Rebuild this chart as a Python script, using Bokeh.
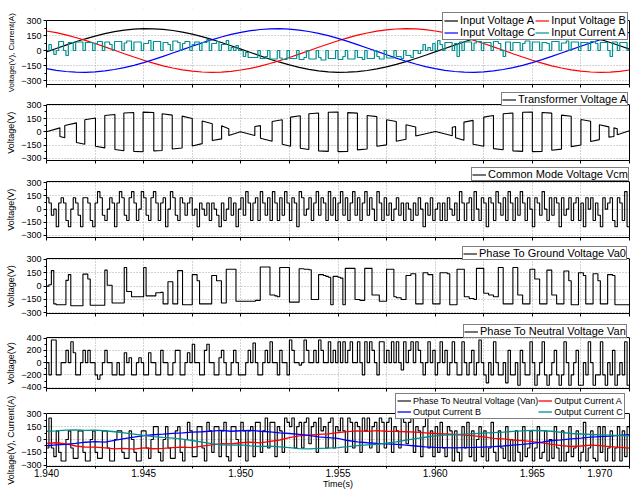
import numpy as np
from bokeh.plotting import figure
from bokeh.layouts import column
from bokeh.models import (Range1d, FixedTicker, Legend, LegendItem, CustomJSTickFormatter,
                          BoxAnnotation, Span, LinearAxis, Title)
from bokeh.embed import file_html
from bokeh.resources import INLINE

FONT = "Liberation Sans"
BLACK, RED, BLUE, TEAL = "#000000", "#ff0000", "#0000ff", "#009090"

T_START, T_END = 1.940, 1.970
SINE_DT_MS = 0.5      # sampling of the smooth curves (ms)
PWM_DT_MS = 0.125     # cell width of the switched waveforms (ms)

x_ticks = [1.94, 1.9425, 1.945, 1.9475, 1.95, 1.9525, 1.955, 1.9575,
           1.96, 1.9625, 1.965, 1.9675, 1.97]

# ---------------- panel 1: input side ----------------
input_voltage_a = [-14, 20, 54, 87, 117, 144, 168, 188, 203, 213, 218, 217, 211, 200, 184, 164, 139, 111, 80, 48, 14,
                   -20, -54, -87, -117, -144, -168, -188, -203, -213, -218, -217, -211, -200, -184, -164, -139, -111, -80, -48, -14,
                   20, 54, 87, 117, 144, 168, 188, 203, 213, 218, 217, 211, 200, 184, 164, 139, 111, 80, 48, 14]
input_voltage_b = [195, 178, 156, 130, 101, 70, 36, 2, -32, -65, -97, -126, -153, -175, -193, -207, -215, -218, -216, -208,
                   -195, -178, -156, -130, -101, -70, -36, -2, 32, 65, 97, 126, 153, 175, 193, 207, 215, 218, 216, 208,
                   195, 178, 156, 130, 101, 70, 36, 2, -32, -65, -97, -126, -153, -175, -193, -207, -215, -218, -216, -208, -195]
input_voltage_c = [-182, -198, -210, -217, -218, -214, -204, -190, -171, -148, -121, -91, -59, -25, 9, 43, 76, 107, 135, 161,
                   182, 198, 210, 217, 218, 214, 204, 190, 171, 148, 121, 91, 59, 25, -9, -43, -76, -107, -135, -161,
                   -182, -198, -210, -217, -218, -214, -204, -190, -171, -148, -121, -91, -59, -25, 9, 43, 76, 107, 135, 161, 182]
input_current_a = [
    0, 60, 0, -40, 0, 90, 90, 0,
    -50, 80, 80, 0, 85, 85, 85, 0,
    80, 80, 80, 0, 70, 90, 90, 0,
    85, 85, 60, 0, 90, 90, 90, 0,
    75, 95, 95, 0, 85, 85, 85, 0,
    70, 70, 100, 0, 90, 90, 90, 0,
    80, 80, 60, 0, 95, 95, 80, 0,
    70, 90, 90, 0, 60, 85, 85, 0,
    80, 80, 110, 0, 70, 70, 90, 0,
    60, 60, 100, 0, 30, 0, 50, 0,
    0, -60, -20, -70, -70, -70, -70, 0,
    -80, -80, -60, 0, -85, -85, -85, 0,
    -75, -90, -90, 0, -80, -80, -80, 0,
    -90, -90, -70, 0, -85, -85, -85, 0,
    -70, -95, -95, 0, -80, -80, -80, 0,
    -90, -90, -60, 0, -85, -85, -85, 0,
    -70, -70, -90, 0, -80, -80, -80, 0,
    -60, -85, -85, 0, -75, -75, -75, 0,
    -60, -60, -80, 0, -50, -50, -70, 0,
    0, -30, 0, 60, 0, 30, 0, 70,
    0, 100, 60, 0, 80, 80, 80, 0,
    70, -60, 85, 0, 85, 85, 85, 0,
    75, 90, 90, 0, 80, 80, 80, 0,
    90, 90, 70, 0, -60, 85, 85, 0,
    80, 80, 80, 0, 70, 95, 95, 0,
    85, 85, 85, 0, 80, 80, 70, 0,
    90, 90, 90, 0, 75, 75, 95, 0,
    85, 85, 85, 0, 80, 80, 80, 0,
    90, 90, 70, 0, 80, 80, 80, 0,
    -60, 85, 85, 0, 80, 80, 80, 0]

# ---------------- panel 2: transformer voltage (breakpoints) ----------------
transformer_ms = [0, 0.69, 0.69, 0.94, 0.94, 1.54, 1.54, 1.97, 1.97, 2.52, 2.52, 3.0, 3.0, 3.52, 3.52, 3.98,
                  3.98, 4.49, 4.49, 4.97, 4.97, 5.52, 5.52, 5.95, 5.95, 6.47, 6.47, 6.98, 6.98, 7.5, 7.5, 8.01,
                  8.01, 8.53, 8.53, 9.01, 9.01, 9.38, 9.38, 9.98, 10.72, 10.72, 11.01, 11.01, 11.61, 11.61, 12.13,
                  12.13, 12.56, 12.56, 13.06, 13.06, 13.5, 13.5, 14.0, 14.0, 14.5, 14.5, 15.0, 15.0, 15.5, 15.5,
                  16.0, 16.0, 16.5, 16.5, 17.0, 17.0, 17.5, 17.5, 18.0, 18.0, 18.5, 18.5, 19.0, 19.0, 20.02, 20.88,
                  20.88, 21.05, 21.05, 21.48, 21.48, 21.95, 21.95, 22.5, 22.5, 23.0, 23.0, 23.5, 23.5, 24.0, 24.0,
                  24.5, 24.5, 25.0, 25.0, 25.5, 25.5, 26.0, 26.0, 26.5, 26.5, 27.0, 27.0, 27.5, 27.5, 28.0, 28.0,
                  28.45, 28.45, 28.94, 28.94, 29.2, 29.2, 29.37, 29.37, 30.0]
transformer_v = [0, 45, -53, -68, 72, 102, -121, -140, 137, 156, -163, -182, 186, 196, -201, -214,
                 214, 220, -222, -226, 224, 220, -216, -212, 205, 190, -194, -184, 178, 152, -160, -134,
                 122, 92, -99, -80, 68, 36, -42, 0, -42, 60, 70, -72, -106, 118, 137,
                 -140, -163, 167, 182, -186, -201, 205, 214, -216, -222, 222, 224, -224, -222, 218,
                 212, -205, -194, 186, 172, -163, -148, 137, 118, -106, -84, 80, 55, -48, 4, -45,
                 52, 60, -66, -95, 110, 130, -140, -163, 167, 186, -190, -203, 205, 214, -216,
                 -222, 222, 224, -224, -222, 220, 212, -208, -196, 190, 176, -168, -150, 140, 120, -110,
                 -88, 80, 56, -60, -52, 45, 36, -34, 12]

# ---------------- panel 3: common mode voltage ----------------
common_mode_vcm = [
    130, 70, -70, 0, -200, 70, 130, 70,
    -130, -200, 0, 130, 70, -70, -200, 130,
    130, 70, -130, -200, 70, 200, 130, -70,
    -130, 0, 130, 70, -200, 70, 200, 130,
    -70, -130, 130, 200, 70, -130, 0, 200,
    130, -70, -130, 130, 200, 70, -130, 70,
    130, -200, 0, 200, 130, -70, -130, 130,
    70, -70, 70, 130, -70, 0, -200, 70,
    0, -70, 70, -130, 70, 0, -70, -200,
    70, -130, 0, 130, -70, 70, -200, 0,
    130, -70, 200, 70, -130, 70, 130, -130,
    200, 70, -70, 130, -130, 200, 70, -130,
    130, -70, 200, 70, -130, 130, 70, -200,
    200, 130, -70, 0, 130, -130, 70, 200,
    -70, 130, 70, -130, 200, -70, 130, -130,
    70, 200, -70, 130, -130, 70, 200, -70,
    130, -130, 70, 200, -70, 130, 0, -130,
    200, 70, -130, 130, -70, 70, -130, 0,
    130, -70, 70, -130, 70, 0, -130, 70,
    -70, 130, 0, -200, 70, -70, 130, -130,
    0, 70, -130, 70, -130, 130, 0, -70,
    70, -130, 200, 70, -130, 70, 130, -130,
    200, 0, -130, 130, 70, -200, 130, 70,
    -130, 200, 70, -70, 130, -130, 200, 70,
    -130, 130, -70, 200, 70, -130, 130, 0,
    -200, 130, 70, -70, 200, 0, -130, 130,
    -70, 130, 70, -200, 130, -70, 0, 130,
    -130, 70, 130, -130, 70, -200, 130, 0,
    130, -130, 70, -70, -200, 130, 0, 70,
    130, -130, -200, 130, 70, -130, 200, -200]

# ---------------- panel 4: phase to ground voltage ----------------
phase_ground_va0 = [
    0, 15, 175, -200, -210, -210, -210, -210,
    65, 130, -220, -220, -220, -220, -220, 135,
    135, 80, -215, -215, -215, -215, -215, -215,
    180, 10, 10, -190, -190, -190, -190, -190,
    210, -60, -60, -120, -120, -120, -120, -120,
    210, -110, -110, -110, -110, -75, -75, -70,
    -200, -200, 50, 50, -200, -200, 175, 175,
    -210, -210, -210, -210, 130, 130, 60, -200,
    -200, -200, -200, -200, 120, 120, 60, 60,
    -190, -190, 190, 190, 190, 190, -170, -170,
    -170, -170, -170, -170, -170, -170, -160, -160,
    215, 215, 215, 215, -100, -100, -110, -120,
    210, 210, 210, 210, -180, -180, -180, -180,
    195, 195, 190, 190, 185, -150, -150, -150,
    130, 130, 120, 110, 100, -210, 110, 110,
    100, 90, -210, 200, 200, 200, 200, -150,
    -150, -160, -160, 200, 200, 200, -100, -100,
    -100, -170, -170, -170, 190, 190, 190, -120,
    -130, -130, -150, -150, 120, 120, 140, 140,
    -200, -200, -200, 150, 150, 130, 130, -200,
    -200, -200, 150, 150, 150, 140, -210, -210,
    -210, 190, 190, 190, -120, -120, -140, -140,
    -150, 200, 200, 200, -80, -80, -100, -100,
    -120, -120, 210, 210, -200, -200, -200, -200,
    210, 210, -100, -100, -200, -200, -200, 190,
    190, 80, 80, -200, -200, -200, 180, 180,
    -100, -100, -200, -200, -200, 170, 170, 60,
    -210, -210, -210, 150, 150, 120, -200, -200,
    -200, 140, 140, 60, -200, -200, -200, 130,
    130, 120, -210, -210, -210, -210, -210, -210]

# ---------------- panel 5: phase to neutral voltage ----------------
phase_neutral_van = [
    0, -200, 370, 370, -200, -200, 0, 0,
    200, 0, 340, 160, -200, -200, 0, 200,
    0, 200, 0, 0, -200, -270, -200, 0,
    200, 0, 0, -200, -200, 0, -200, -200,
    160, 0, 80, -200, -200, 0, 80, 0,
    -200, -200, 160, 0, 0, -200, -200, 200,
    0, 0, -200, -200, 0, 200, 200, -200,
    -200, 0, 160, 0, 300, 0, 0, -200,
    -200, 200, 300, 0, 0, -200, -200, 80,
    200, 0, -200, -200, 0, 200, 0, -200,
    -200, -200, 0, 200, 0, 320, 0, -200,
    -200, 0, 200, 0, 340, 0, 0, -200,
    200, 0, 0, -200, 370, 200, 0, 0,
    -40, 0, 370, 200, 0, 0, 200, 0,
    370, 200, 0, 0, 340, 0, 200, 0,
    340, 0, 340, 0, 200, 340, 0, 0,
    340, 0, -200, 340, 0, 340, 200, 0,
    -200, 340, 340, 0, 200, 0, 340, 0,
    340, 0, -120, 340, 0, 200, 340, 0,
    340, 200, 0, -200, 0, 340, 0, 200,
    -200, 0, 340, 0, 200, -200, 0, 340,
    0, -200, -200, 340, 0, -200, 0, 200,
    -200, 0, 370, 0, -200, -330, 0, -200,
    340, 0, -200, -200, 0, -330, 200, -200,
    -200, 0, -370, 200, 0, -200, -200, 340,
    0, -370, -200, 0, 340, -200, -370, -200,
    0, 200, -200, -370, -200, 340, 0, -370,
    -200, 0, 200, -370, -370, 0, -200, 340,
    0, -370, -200, -200, 340, -200, -370, 0,
    -200, 200, -370, -200, 0, -200, 340, -370]

# ---------------- panel 6: output side ----------------
output_van = [
    -100, 250, -100, -200, 100, -150, -250, -250,
    0, 100, -100, -220, -220, 100, 100, -150,
    -250, -250, 0, 100, -150, -220, -220, 100,
    100, -100, -250, -250, 0, 100, 100, -150,
    -220, -220, 100, 0, -150, -250, -250, 100,
    100, -100, -220, 0, 150, 150, -150, -250,
    0, 150, -100, -220, -220, 100, 150, -150,
    -250, 0, 200, 100, -200, -200, 150, 150,
    -100, -250, 200, 100, -150, 150, 150, -200,
    100, 200, -200, -250, 150, 150, 0, -200,
    200, 100, -250, 100, 150, -200, 200, 200,
    -150, 100, 250, -100, 200, 200, -200, 150,
    100, -150, 250, 200, 150, 250, -100, 150,
    200, -100, 200, 250, -50, 150, 200, -150,
    250, 100, 150, -100, 200, 250, -100, 150,
    100, 250, 100, -150, 250, 200, -100, 200,
    150, -150, 250, 100, 250, -100, 150, 200,
    -150, 250, 200, -100, 200, 250, -150, 150,
    100, -100, 250, 200, -50, 200, 250, -150,
    150, 100, -200, 150, 250, -100, 100, -200,
    150, -150, 200, -100, -200, 150, 100, -250,
    100, -150, -250, 150, -100, 200, -200, 100,
    -250, 0, 150, -200, 100, -250, -100, 200,
    -150, -250, 100, -100, -220, 150, -250, 0,
    -250, 100, -150, -250, 150, -200, -100, 100,
    -250, -100, 150, -220, -150, 100, -250, 0,
    -220, 150, -100, -250, 100, -250, -150, 150,
    -200, -100, 100, -250, -150, 200, -250, -100,
    100, -220, -250, 150, -150, 150, -250, -100,
    100, -250, -100, 150, -250, 100, -200, 150]
output_current_a = [-46, -38, -50, -76, -90, -88, -98, -110, -104, -112, -98, -108, -104, -96, -88, -96, -78, -62, -50, -52, -38,
                    -30, -40, -22, -6, 22, 42, 52, 60, 66, 80, 92, 100, 94, 104, 96, 94, 90, 86, 78, 70,
                    64, 58, 52, 42, 30, 14, 6, -6, -14, -26, -40, -58, -72, -82, -76, -66, -72, -84, -92, -100]
output_current_b = [-73, -62, -56, -46, -32, -26, -30, -10, 10, 28, 44, 55, 62, 72, 78, 86, 90, 98, 106, 96, 102,
                    106, 96, 88, 78, 70, 60, 48, 30, 22, 12, -12, -28, -38, -46, -50, -58, -66, -76, -86, -92,
                    -94, -98, -94, -92, -88, -84, -76, -66, -58, -46, -30, -12, -4, 8, 16, 28, 34, 40, 48, 57]
output_current_c = [96, 100, 108, 112, 106, 110, 102, 90, 76, 62, 48, 34, 24, 16, 4, -12, -30, -48, -62, -66, -64,
                    -74, -82, -78, -86, -96, -106, -110, -104, -100, -94, -84, -72, -64, -56, -42, -28, -8, 10, 26, 42,
                    50, 56, 62, 68, 74, 80, 86, 94, 100, 106, 102, 96, 84, 70, 64, 58, 54, 50, 46, 42]


def ms_to_s(ms):
    return T_START + np.asarray(ms, dtype=float) / 1000.0


t_sine = ms_to_s(np.arange(len(input_voltage_a)) * SINE_DT_MS)
t_pwm = ms_to_s(np.arange(len(common_mode_vcm) + 1) * PWM_DT_MS)


def stepped(values):
    return list(values) + [values[-1]]


FRAME_W = 583
# approximate advance widths (in em) of the y titles, used to centre them on the data box
TITLE_EM = {"Voltage(V)": 4.724, "Voltage(V), Current(A)": 9.947}


def make_panel(data_h, ext_px, top, bottom, yr, yticks, yminor, ylabel, ylabel_px=9, show_x=False):
    """A panel whose plotting frame holds the data box plus a strip of ext_px above it for the legend."""
    ymin, ymax = yr
    ytop = ymax + ext_px * (ymax - ymin) / data_h
    p = figure(frame_width=FRAME_W, frame_height=data_h + ext_px,
               x_range=Range1d(T_START, T_END), y_range=Range1d(ymin, ytop),
               output_backend="svg", toolbar_location=None,
               min_border_left=43, min_border_right=5,
               min_border_top=top, min_border_bottom=bottom)
    p.background_fill_color = "white"
    p.border_fill_color = "white"
    p.outline_line_color = None
    p.xaxis.ticker = FixedTicker(ticks=x_ticks)
    p.yaxis.ticker = FixedTicker(ticks=yticks, minor_ticks=yminor)
    p.yaxis.bounds = (ymin, ymax)
    for ax in (p.xaxis[0], p.yaxis[0]):
        ax.axis_line_color = BLACK
        ax.axis_line_width = 1
        ax.major_tick_line_color = BLACK
        ax.minor_tick_line_color = BLACK
        ax.major_tick_in = 0
        ax.major_tick_out = 3
        ax.minor_tick_in = 0
        ax.minor_tick_out = 2
        ax.major_label_text_font = FONT
        ax.major_label_text_color = BLACK
    p.xaxis.minor_tick_line_color = None
    p.yaxis.major_label_text_font_size = "9px"
    p.yaxis.major_label_standoff = 2
    # y title anchored at the bottom of the data box and lifted so that it is centred on it
    title_len = TITLE_EM[ylabel] * ylabel_px
    p.add_layout(Title(text=ylabel, align="left", offset=(data_h - title_len) / 2.0, standoff=6,
                       text_font=FONT, text_font_size=f"{ylabel_px}px", text_font_style="normal",
                       text_color=BLACK), "left")
    if show_x:
        p.xaxis.formatter = CustomJSTickFormatter(code="""
            const k = Math.round((tick - 1.94) / 0.0025);
            if (k % 2 != 0) { return ""; }
            const s = tick.toFixed(3);
            return (k == 12) ? s + "\\u2007\\u2007\\u2007\\u2007" : s;
        """)
        p.xaxis.major_tick_out = 2
        p.xaxis.major_label_text_font_size = "10px"
        p.xaxis.major_label_standoff = -1
        p.xaxis.axis_label = "Time(s)"
        p.xaxis.axis_label_text_font = FONT
        p.xaxis.axis_label_text_font_size = "9px"
        p.xaxis.axis_label_text_font_style = "normal"
        p.xaxis.axis_label_text_color = BLACK
        p.xaxis.axis_label_standoff = -3
    else:
        p.xaxis.formatter = CustomJSTickFormatter(code="return '';")
        p.xaxis.major_label_text_font_size = "0px"
        p.xaxis.major_label_standoff = 0
    # right-hand edge of the data box
    p.add_layout(LinearAxis(bounds=(ymin, ymax), ticker=FixedTicker(ticks=[]),
                            axis_line_color=BLACK, major_tick_line_color=None,
                            minor_tick_line_color=None, major_label_text_font_size="0px",
                            major_label_standoff=0), "right")
    for g in (p.xgrid[0], p.ygrid[0]):
        g.grid_line_color = "#a8a8a8"
        g.grid_line_dash = "1 2"
        g.grid_line_width = 1
    return p, ymax


def finish_panel(p, ymax, legend):
    # blank strip above the data box, the top edge of the box, then the legend
    p.add_layout(BoxAnnotation(bottom=ymax, fill_color="white", fill_alpha=1, line_color=None))
    p.add_layout(Span(location=ymax, dimension="width", line_color=BLACK, line_width=1))
    p.add_layout(legend, "center")


def make_legend(items, loc, size, padding, ncols=None):
    kw = dict(items=items, location=loc)
    if ncols:
        kw.update(orientation="horizontal", ncols=ncols)
    lg = Legend(**kw)
    lg.label_text_font = FONT
    lg.label_text_font_size = size
    lg.label_text_color = BLACK
    lg.glyph_width = 14
    lg.glyph_height = 11
    lg.label_height = 11
    lg.label_standoff = 2
    lg.spacing = 0
    lg.padding = padding
    lg.margin = 0
    lg.border_line_color = BLACK
    lg.border_line_width = 1
    lg.background_fill_color = "white"
    lg.background_fill_alpha = 1
    return lg


Y300 = [-300, -150, 0, 150, 300]
M300 = [-225, -75, 75, 225]

# panel 1
p1, top1 = make_panel(64, 12, 8, 8, (-340, 300), Y300, M300, "Voltage(V), Current(A)", ylabel_px=8)
r1a = p1.line(t_sine, input_voltage_a, line_color=BLACK, line_width=1.2)
r1b = p1.line(t_sine, input_voltage_b, line_color=RED, line_width=1.2)
r1c = p1.line(t_sine, input_voltage_c, line_color=BLUE, line_width=1.2)
r1i = p1.step(t_pwm, stepped(input_current_a), mode="after", line_color=TEAL, line_width=1.2)
finish_panel(p1, top1, make_legend([LegendItem(label="Input Voltage A", renderers=[r1a]),
                                    LegendItem(label="Input Voltage B", renderers=[r1b]),
                                    LegendItem(label="Input Voltage C", renderers=[r1c]),
                                    LegendItem(label="Input Current A", renderers=[r1i])],
                                   (396, 44), "11px", 1, ncols=2))

# panel 2
p2, top2 = make_panel(56, 12, 0, 7, (-325, 310), Y300, M300, "Voltage(V)")
r2 = p2.line(ms_to_s(transformer_ms), transformer_v, line_color=BLACK, line_width=1.1)
finish_panel(p2, top2, make_legend([LegendItem(label="Transformer Voltage A", renderers=[r2])],
                                   (455, 54), "11px", 0))

# panel 3
p3, top3 = make_panel(56, 14, 0, 9, (-323, 315), Y300, M300, "Voltage(V)")
r3 = p3.step(t_pwm, stepped(common_mode_vcm), mode="after", line_color=BLACK, line_width=1.1)
finish_panel(p3, top3, make_legend([LegendItem(label="Common Mode Voltage Vcm", renderers=[r3])],
                                   (425, 56), "11px", 0))

# panel 4
p4, top4 = make_panel(55, 12, 0, 11, (-308, 311), Y300, M300, "Voltage(V)")
r4 = p4.step(t_pwm, stepped(phase_ground_va0), mode="after", line_color=BLACK, line_width=1.1)
finish_panel(p4, top4, make_legend([LegendItem(label="Phase To Ground Voltage Va0", renderers=[r4])],
                                   (416, 53), "11px", 0))

# panel 5
p5, top5 = make_panel(51, 13, 0, 5, (-422, 410), [-400, -200, 0, 200, 400], [-300, -100, 100, 300], "Voltage(V)")
r5 = p5.step(t_pwm, stepped(phase_neutral_van), mode="after", line_color=BLACK, line_width=1.1)
finish_panel(p5, top5, make_legend([LegendItem(label="Phase To Neutral Voltage Van", renderers=[r5])],
                                   (417, 50), "11px", 0))

# panel 6
p6, top6 = make_panel(53, 20, 0, 24, (-315, 303), Y300, M300, "Voltage(V), Current(A)", show_x=True)
r6v = p6.step(t_pwm, stepped(output_van), mode="after", line_color=BLACK, line_width=1.1)
r6a = p6.line(t_sine, output_current_a, line_color=RED, line_width=1.3)
r6b = p6.line(t_sine, output_current_b, line_color=BLUE, line_width=1.3)
r6c = p6.line(t_sine, output_current_c, line_color=TEAL, line_width=1.3)
finish_panel(p6, top6, make_legend([LegendItem(label="Phase To Neutral Voltage (Van)", renderers=[r6v]),
                                    LegendItem(label="Output Current A", renderers=[r6a]),
                                    LegendItem(label="Output Current B", renderers=[r6b]),
                                    LegendItem(label="Output Current C", renderers=[r6c])],
                                   (349, 47), "9px", 1, ncols=2))

layout = column(p1, p2, p3, p4, p5, p6, spacing=0)
open("out.html", "w").write(file_html(layout, INLINE))
